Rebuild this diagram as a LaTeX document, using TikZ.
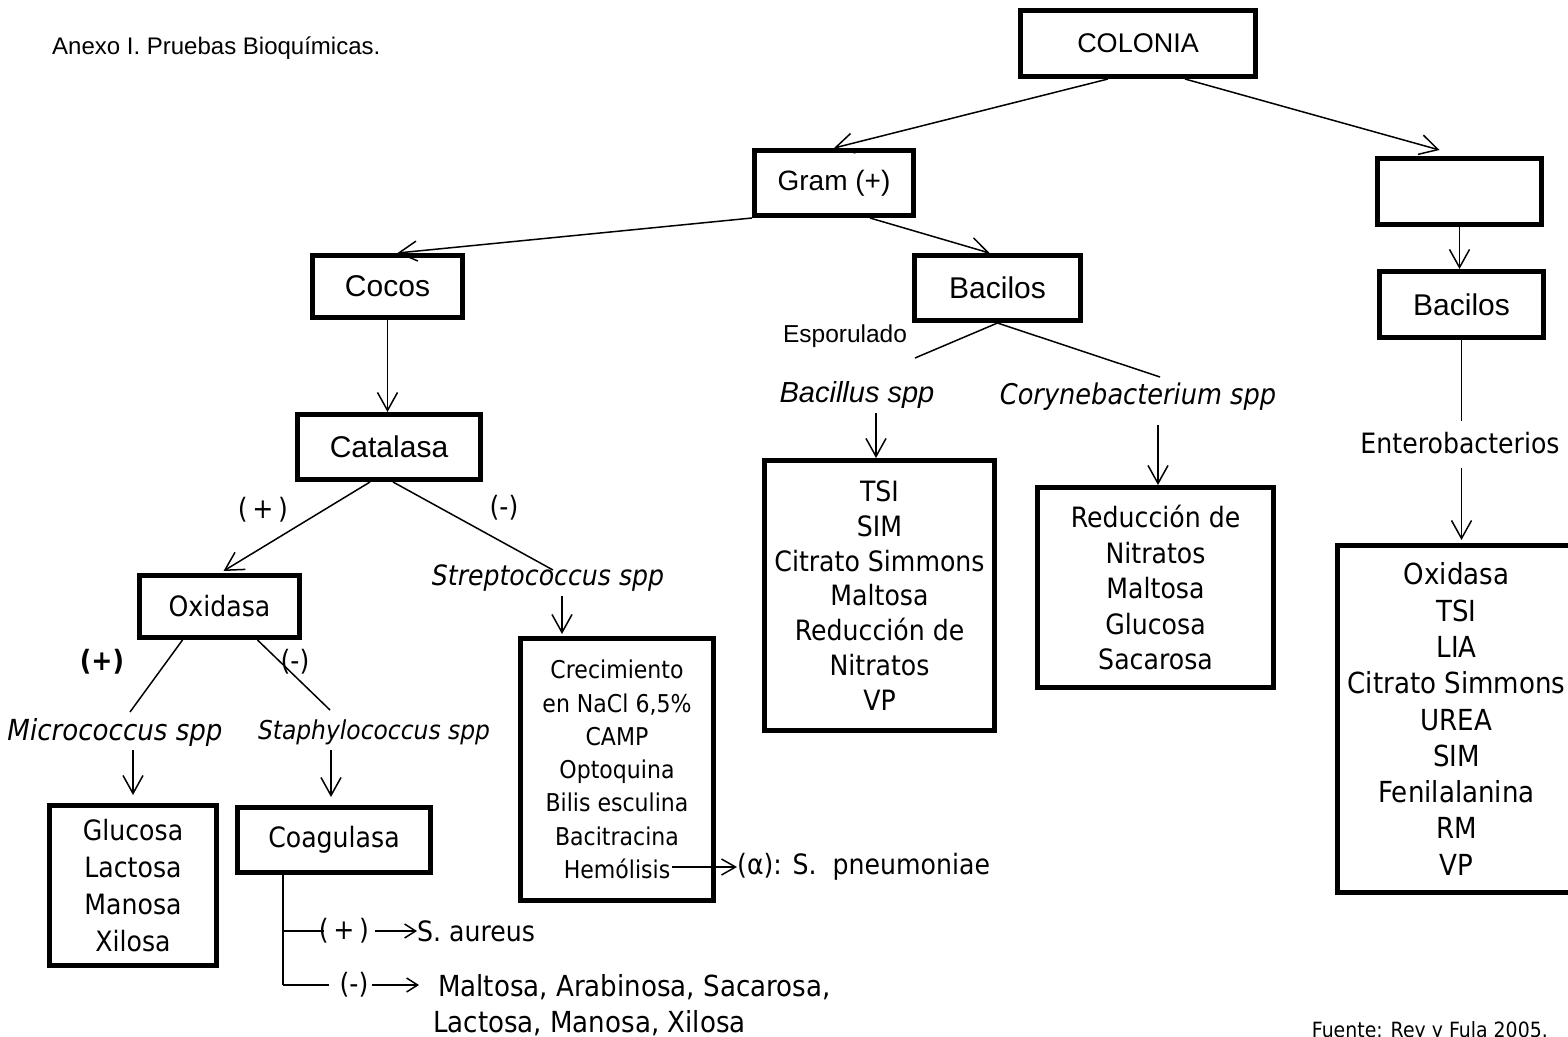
\documentclass[tikz,border=0pt]{standalone}
\usepackage{fontspec}
\setmainfont{Liberation Sans}
\newfontfamily\tah[FakeStretch=0.9]{DejaVu Sans}
\usetikzlibrary{arrows.meta,calc}
\newcommand\tahsz[2]{\tah\fontsize{#1}{#2}\selectfont}
\newcommand\arsz[2]{\fontsize{#1}{#2}\selectfont}

\begin{document}
\begin{tikzpicture}[x=1pt,y=-1pt,
  box/.style={draw, line width=5pt, inner sep=0pt, align=center},
  txt/.style={inner sep=0pt, align=center},
  lin/.style={line width=1.5pt},
  arw/.style={lin, -{Straight Barb[length=18pt,width=20pt]}},
  marw/.style={lin, -{Straight Barb[length=14pt,width=16pt]}},
  sarw/.style={lin, -{Straight Barb[length=11pt,width=14pt]}}]
\useasboundingbox (0,0) rectangle (1568,1036);

% title
\node[txt, anchor=base west, font=\arsz{24}{28}] (title) at (52,54) {Anexo I. Pruebas Bioquímicas.};

% boxes
\node[box, minimum width=235pt, minimum height=66pt, font=\arsz{27}{32}] (colonia) at (1138,43.5) {COLONIA};
\node[box, minimum width=159pt, minimum height=65pt, font=\arsz{28}{34}] (gram) at (834,183) {Gram (+)};
\node[box, minimum width=164pt, minimum height=66pt] (empty) at (1459.5,191.5) {};
\node[box, minimum width=164pt, minimum height=66pt, font=\arsz{30}{36}] (bacR) at (1461.5,304.5) {Bacilos};
\node[box, minimum width=150pt, minimum height=62pt, font=\arsz{30}{36}] (cocos) at (387.5,286.5) {Cocos};
\node[box, minimum width=166pt, minimum height=65pt, font=\arsz{30}{36}] (bacM) at (997.5,288) {Bacilos};
\node[box, minimum width=183pt, minimum height=65pt, font=\arsz{30}{36}] (catalasa) at (389,447) {Catalasa};
\node[box, minimum width=160pt, minimum height=62pt, font=\tahsz{28}{35}] (oxidasa) at (219.5,606.5) {Oxidasa};
\node[box, minimum width=167pt, minimum height=160pt, font=\tahsz{28}{37}] (glucosa) at (133,885.5) {Glucosa\\Lactosa\\Manosa\\Xilosa};
\node[box, minimum width=193pt, minimum height=65pt, font=\tahsz{28}{35}] (coag) at (334,840) {Coagulasa};
\node[box, minimum width=193pt, minimum height=262pt, font=\tahsz{24.5}{33.3}] (crec) at (617,769.5)
  {Crecimiento\\en NaCl 6,5\%\\CAMP\\Optoquina\\Bilis esculina\\Bacitracina\\Hemólisis};
\node[box, minimum width=230pt, minimum height=270pt, font=\tahsz{28}{34.8}] (tsi) at (879.5,595.5)
  {TSI\\SIM\\Citrato Simmons\\Maltosa\\Reducción de\\Nitratos\\VP};
\node[box, minimum width=236pt, minimum height=200pt, font=\tahsz{28}{35.5}] (reduc) at (1155.5,587.5)
  {Reducción de\\Nitratos\\Maltosa\\Glucosa\\Sacarosa};
\node[box, minimum width=238pt, minimum height=347pt, font=\tahsz{29}{36.3}] (enter) at (1456.5,719)
  {Oxidasa\\TSI\\LIA\\Citrato Simmons\\UREA\\SIM\\Fenilalanina\\RM\\VP};

% free labels
\node[txt, font=\arsz{24.5}{30}] (espor) at (845,336) {Esporulado};
\node[txt, font=\arsz{29}{35}\itshape] (bacil) at (857,395) {Bacillus spp};
\node[txt, font=\tahsz{28.5}{35}\itshape] (coryne) at (1138,397) {Corynebacterium spp};
\node[txt, font=\tahsz{28}{35}\itshape] (strep) at (548,578) {Streptococcus spp};
\node[txt, font=\tahsz{29}{35}\itshape] (micro) at (115,732) {Micrococcus spp};
\node[txt, font=\tahsz{26}{32}\itshape] (staph) at (374,732) {Staphylococcus spp};
\node[txt, font=\tahsz{28}{35}] (catP) at (263,510) {(\,+\,)};
\node[txt, font=\tahsz{28}{35}] (catM) at (504,508) {(-)};
\node[txt, font=\tahsz{28}{35}\bfseries] (oxP) at (102,662) {(+)};
\node[txt, font=\tahsz{28}{35}] (oxM) at (295,662) {(-)};
\node[txt, font=\tahsz{28}{34}] (enterL) at (1460,443) {Enterobacterios};
\node[txt, font=\tahsz{28}{35}] (coagP) at (344,931) {(\,+\,)};
\node[txt, font=\tahsz{28}{35}, anchor=west] (aureus) at (417,931) {S. aureus};
\node[txt, font=\tahsz{29}{36}, align=left, anchor=north west] (malt) at (433,974)
  {\hspace*{5pt}Maltosa, Arabinosa, Sacarosa,\\Lactosa, Manosa, Xilosa};
\node[txt, font=\tahsz{28}{35}] (coagM) at (354,985) {(-)};
\node[txt, font=\tahsz{28}{35}, anchor=west] (pneu) at (737,867) {(α): S.\ \ pneumoniae};
\node[txt, font=\tahsz{21}{26}, anchor=base east] (fuente) at (1548,1037) {Fuente: Rey y Fula 2005.};

% connectors
\draw[arw] ($(colonia.south)+(-30,0)$) -- (gram.north);
\draw[arw] ($(colonia.south)+(47,0)$) -- ($(empty.north)+(-20,-6)$);
\draw[arw] (empty.south) -- (empty.south |- bacR.north);
\draw[arw] (gram.south west) -- ($(cocos.north)+(10,0)$);
\draw[arw] ($(gram.south)+(36,0)$) -- ($(bacM.north)+(-8,0)$);
\draw[arw] (cocos.south) -- (cocos.south |- catalasa.north);
\draw[arw] ($(catalasa.south)+(-19,0)$) -- ($(oxidasa.north)+(4,-2)$);
\draw[lin] ($(catalasa.south)+(4,0)$) -- ($(strep.center)+(5,-8)$);
\draw[lin] ($(oxidasa.south)+(-37,0)$) -- ($(micro.center)+(15,-20)$);
\draw[lin] ($(oxidasa.south)+(38,0)$) -- ($(staph.center)+(-44,-22)$);
\draw[arw] ($(micro.center)+(18,18)$) -- ($(glucosa.north)+(0,-8)$);
\draw[arw] ($(staph.center)+(-43,18)$) -- ($(coag.north)+(-3,-8)$);

% coagulasa branches
\coordinate (cv) at ($(coag.south)+(-51,0)$);
\draw[lin] (cv) -- (cv |- coagM);
\draw[lin] (cv |- coagP) -- ($(coagP.west)+(5,0)$);
\draw[sarw] ($(coagP.east)+(6,0)$) -- (aureus.west);
\draw[lin] (cv |- coagM) -- ($(coagM.west)+(-10,0)$);
\draw[sarw] ($(coagM.east)+(3,0)$) -- ($(malt.west |- coagM)+(-14,0)$);

\draw[arw] ($(strep.center)+(14,18)$) -- ($(crec.north)+(-55,-2)$);
\draw[marw] ($(crec.south)+(55,-36)$) -- (pneu.west);

\draw[lin] (bacM.south) -- ($(bacil.center)+(58,-37)$);
\draw[lin] (bacM.south) -- ($(coryne.center)+(22,-20)$);
\draw[arw] ($(bacil.center)+(19,18)$) -- ($(tsi.north)+(-3.5,0)$);
\draw[arw] ($(coryne.center)+(20,28)$) -- ($(reduc.north)+(2.5,0)$);

\draw[lin] (bacR.south) -- ($(enterL.center)+(1.5,-22)$);
\draw[arw] ($(enterL.center)+(1.5,25)$) -- ($(enter.north)+(5,-3)$);
\end{tikzpicture}
\end{document}
